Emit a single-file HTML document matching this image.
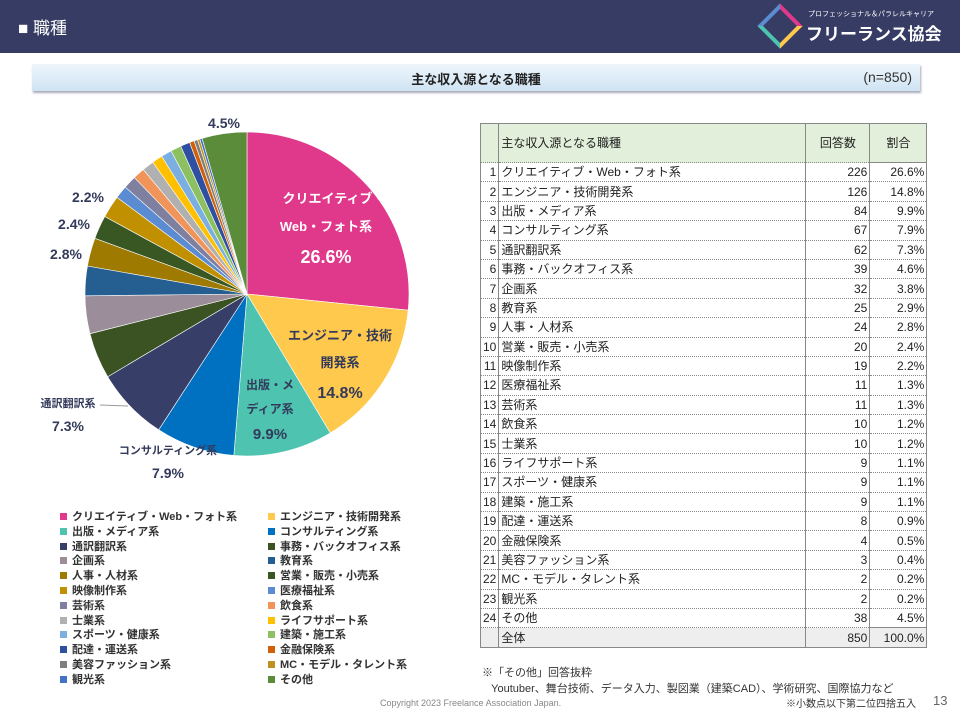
<!DOCTYPE html><html><head><meta charset="utf-8"><style>
body{margin:0;width:960px;height:719px;background:#fff;font-family:"Liberation Sans","Noto Sans CJK JP",sans-serif;position:relative;overflow:hidden}
.top{position:absolute;left:0;top:0;width:960px;height:53px;background:#363c63;color:#fff}
.sub{position:absolute;left:32px;top:64px;width:888px;height:27px;background:linear-gradient(#eef6fc,#cfe3f3);box-shadow:1px 2px 2px #aab;}
table{position:absolute;left:480px;top:123px;border-collapse:collapse;font-size:12px;color:#222}
td{height:18.4px;padding:0 2px;border-bottom:1px dotted #888;white-space:nowrap;line-height:14px}
.lg{position:absolute;font-size:11px;color:#333;font-weight:bold}
.lg i{display:inline-block;width:7px;height:7px;margin-right:5px}
</style></head><body>
<div class="top"><div style="position:absolute;left:18px;top:14px;font-size:17px">■ 職種</div>
<div style="position:absolute;left:764px;top:10px;width:24px;height:24px;border:4px solid #4dc3b0;transform:rotate(45deg);border-color:#e0388a #ffc94d #4dc3b0 #5b8bd0"></div>
<div style="position:absolute;left:808px;top:9px;font-size:7px">プロフェッショナル＆パラレルキャリア</div>
<div style="position:absolute;left:806px;top:20px;font-size:17px;font-weight:bold">フリーランス協会</div></div>
<div class="sub"><div style="position:absolute;left:0;width:100%;top:5px;text-align:center;font-size:13px;font-weight:bold;color:#222">主な収入源となる職種</div><div style="position:absolute;right:8px;top:5px;font-size:14px;color:#333">(n=850)</div></div>
<svg id="pie" width="480" height="500" style="position:absolute;left:0;top:100px"></svg>
<div style="position:absolute;left:60px;top:500px;width:420px;height:190px" id="leg"></div>
<table id="tb"></table>
<div style="position:absolute;left:482px;top:664px;font-size:11px;color:#333">※「その他」回答抜粋<br>&nbsp;&nbsp;&nbsp;Youtuber、舞台技術、データ入力、製図業（建築CAD）、学術研究、国際協力など</div>
<div style="position:absolute;left:380px;top:698px;font-size:9px;color:#888">Copyright 2023 Freelance Association Japan.</div>
<div style="position:absolute;left:786px;top:695px;font-size:10px;color:#333">※小数点以下第二位四捨五入</div>
<div style="position:absolute;left:933px;top:693px;font-size:13px;color:#666">13</div>
<script>
var d=[["クリエイティブ・Web・フォト系",226,"26.6%","#e0388a"],["エンジニア・技術開発系",126,"14.8%","#ffc94d"],["出版・メディア系",84,"9.9%","#4dc3b0"],["コンサルティング系",67,"7.9%","#0070c0"],["通訳翻訳系",62,"7.3%","#373f68"],["事務・バックオフィス系",39,"4.6%","#3b5323"],["企画系",32,"3.8%","#9b8e9a"],["教育系",25,"2.9%","#255e91"],["人事・人材系",24,"2.8%","#9e7b00"],["営業・販売・小売系",20,"2.4%","#385723"],["映像制作系",19,"2.2%","#c09000"],["医療福祉系",11,"1.3%","#5b8bd0"],["芸術系",11,"1.3%","#7f7f9f"],["飲食系",10,"1.2%","#f0945a"],["士業系",10,"1.2%","#b0b0b0"],["ライフサポート系",9,"1.1%","#ffc000"],["スポーツ・健康系",9,"1.1%","#7aafe0"],["建築・施工系",9,"1.1%","#8dc060"],["配達・運送系",8,"0.9%","#2f4fa0"],["金融保険系",4,"0.5%","#d0600a"],["美容ファッション系",3,"0.4%","#7f7f7f"],["MC・モデル・タレント系",2,"0.2%","#c09020"],["観光系",2,"0.2%","#4472c4"],["その他",38,"4.5%","#5b8c3a"]];
var cx=247,cy=194,r=162,a=0,s="";
d.forEach(function(e){var b=a+e[1]/850*2*Math.PI;var x1=cx+r*Math.sin(a),y1=cy-r*Math.cos(a),x2=cx+r*Math.sin(b),y2=cy-r*Math.cos(b);
s+='<path d="M'+cx+','+cy+'L'+x1+','+y1+'A'+r+','+r+' 0 '+((b-a)>Math.PI?1:0)+' 1 '+x2+','+y2+'Z" fill="'+e[3]+'" stroke="#fff" stroke-width="0.6"/>';a=b;});
function t(x,y,txt,sz,c){s+='<text x="'+x+'" y="'+y+'" font-size="'+sz+'" font-weight="bold" fill="'+c+'" text-anchor="middle">'+txt+'</text>';}
var W="#fff",N="#333a5a";
t(334,103,"クリエイティブ・",13,W);t(326,131,"Web・フォト系",13,W);t(326,163,"26.6%",18,W);
t(340,240,"エンジニア・技術",13,N);t(340,267,"開発系",13,N);t(340,298,"14.8%",16,N);
t(270,289,"出版・メ",12,N);t(270,313,"ディア系",12,N);t(270,339,"9.9%",15,N);
t(168,354,"コンサルティング系",11,N);t(168,378,"7.9%",14,N);
t(68,307,"通訳翻訳系",11,N);t(68,331,"7.3%",14,N);
t(224,28,"4.5%",14,N);t(88,102,"2.2%",14,N);t(74,129,"2.4%",14,N);t(66,159,"2.8%",14,N);
s+='<line x1="100" y1="305" x2="128" y2="306" stroke="#999"/>';
document.getElementById('pie').innerHTML=s;
var L="";d.forEach(function(e,i){L+='<div class="lg" style="left:'+(i%2?208:0)+'px;top:'+(8+Math.floor(i/2)*14.8)+'px"><i style="background:'+e[3]+'"></i>'+e[0]+'</div>';});
document.getElementById('leg').innerHTML=L;
var T='<tr style="background:#e2efda"><td style="width:13px;height:38px;border-left:1px solid #888;border-top:1px solid #888"></td><td style="width:302px;border-top:1px solid #888;border-left:1px solid #888">主な収入源となる職種</td><td style="width:59px;text-align:center;border-top:1px solid #888;border-left:1px solid #888">回答数</td><td style="width:52px;text-align:center;border:1px solid #888">割合</td></tr>';
d.forEach(function(e,i){T+='<tr><td style="text-align:right;border-left:1px solid #888">'+(i+1)+'</td><td style="border-left:1px solid #888">'+e[0]+'</td><td style="text-align:right;border-left:1px solid #888">'+e[1]+'</td><td style="text-align:right;border-left:1px solid #888;border-right:1px solid #888">'+e[2]+'</td></tr>';});
T+='<tr style="background:#eee"><td style="border-left:1px solid #888;border-bottom:1px solid #888"></td><td style="border-left:1px solid #888;border-bottom:1px solid #888">全体</td><td style="text-align:right;border-left:1px solid #888;border-bottom:1px solid #888">850</td><td style="text-align:right;border:1px solid #888">100.0%</td></tr>';
document.getElementById('tb').innerHTML=T;
</script>
</body></html>
